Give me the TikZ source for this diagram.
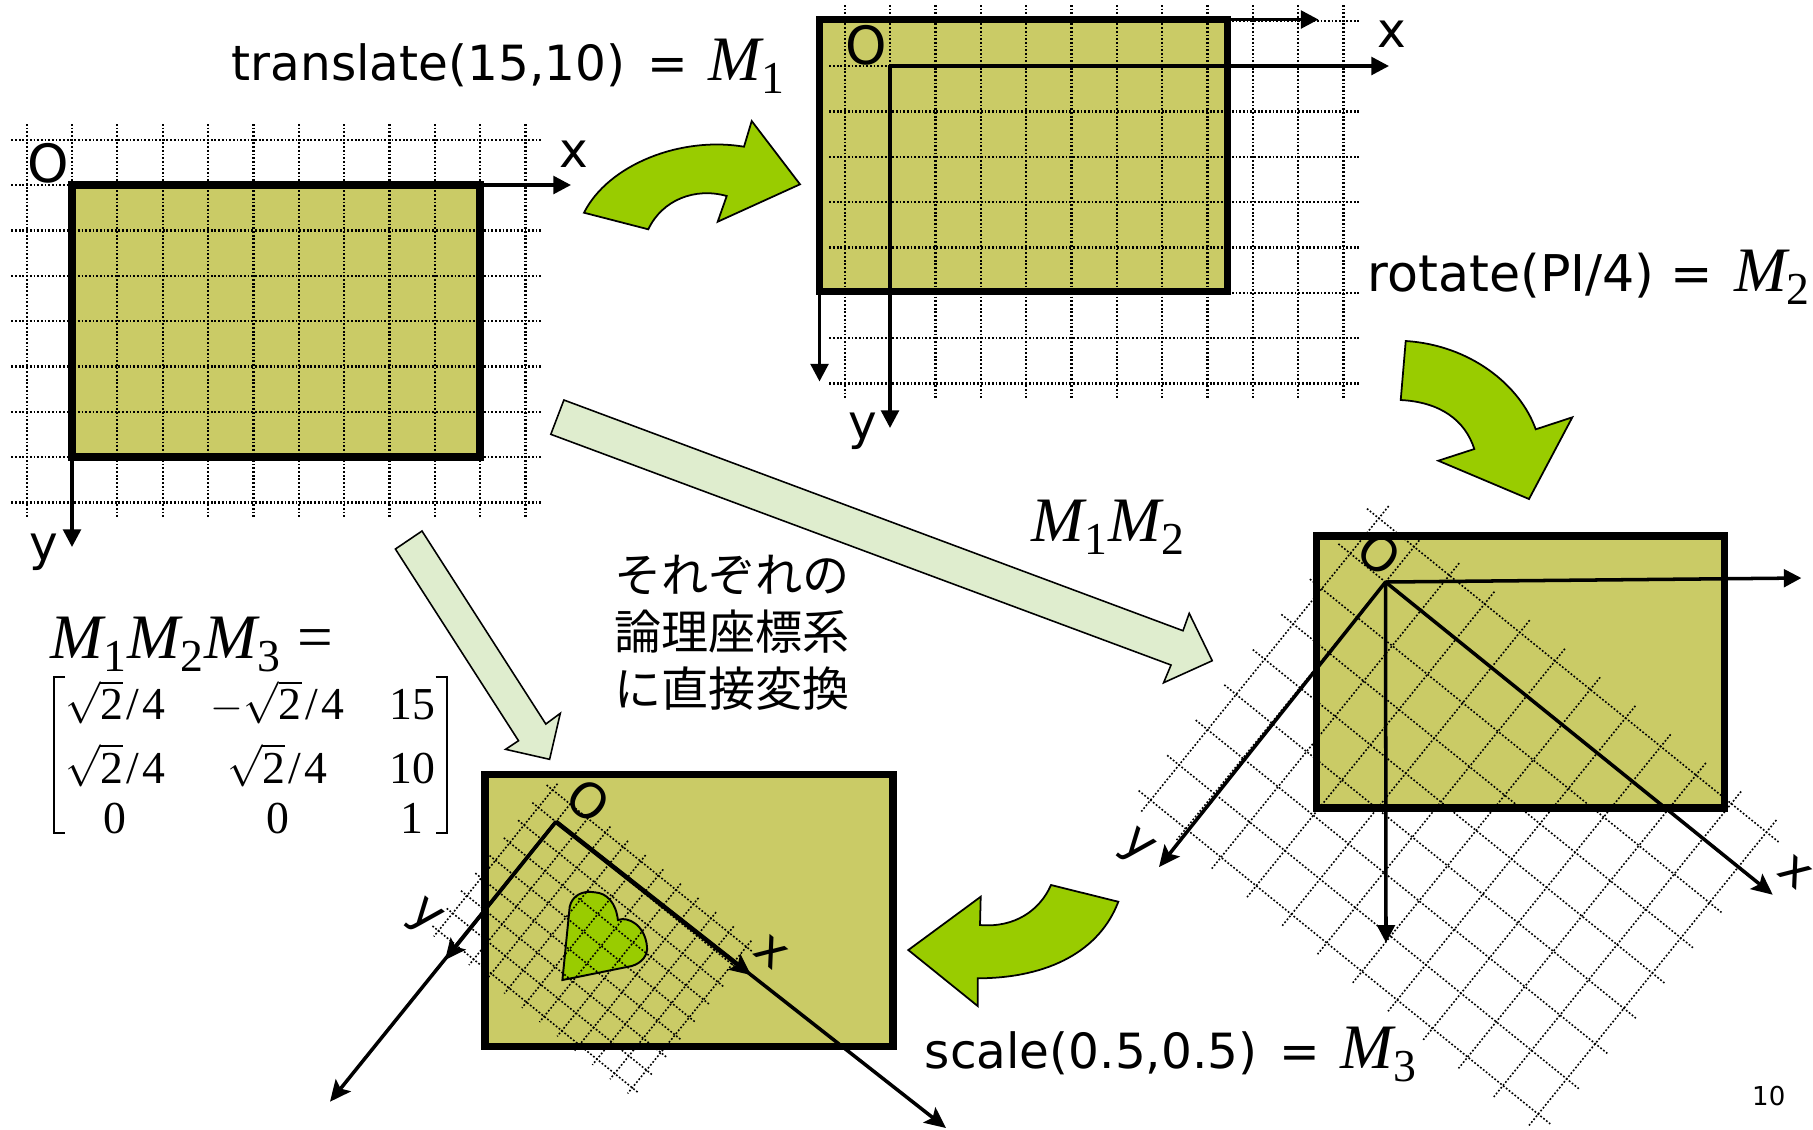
\documentclass[tikz,border=0pt]{standalone}
\usepackage{fontspec}
\setmainfont{Liberation Serif}
\newfontfamily\labelfont{DejaVu Sans}
\newfontfamily\cjk{Noto Sans CJK JP}
\usetikzlibrary{arrows.meta}
\definecolor{panelfill}{HTML}{CACB66}
\definecolor{bendgreen}{HTML}{99CC00}
\definecolor{palegreen}{HTML}{DFEDCE}
\newcommand{\mfac}[1]{{\rmfamily\fontsize{18}{20}\selectfont\itshape M\raisebox{-3.8pt}{\upshape\fontsize{13}{14}\selectfont #1}\kern.4pt}}
\newcommand{\eqsign}{\hspace{2pt} =\hspace{1.4pt} }
\newcommand{\rootq}{\sqrt{\mbox{2}}\hspace{1pt}\mbox{/}\hspace{1pt}\mbox{4}}
\newcommand{\coordgrid}{%
  \foreach \i in {-1,...,10} \draw[gridline] (\i*45.35,-61) -- (\i*45.35,332);
  \foreach \j in {-1,...,7} \draw[gridline] (-60.6,\j*45.35) -- (469,\j*45.35);
}
\tikzset{
  gridline/.style={line width=.65pt,dash pattern=on .5pt off .55pt},
  panelline/.style={draw=black,line width=2.1pt},
  axis/.style={line width=1pt,-{Triangle[length=5pt,width=5pt]}},
  tiltaxis/.style={line width=1pt,-{Stealth[length=6pt,width=5.5pt,inset=1.2pt]}},
  bendarrow/.style={fill=bendgreen,draw=black,line width=.5pt},
  palearrow/.style={fill=palegreen,draw=black,line width=.45pt},
  matbracket/.style={line width=.6pt},
  plaintext/.style={inner sep=0pt,font=\labelfont\fontsize{13.8}{17}\selectfont},
  bigtext/.style={inner sep=0pt,font=\labelfont\fontsize{15}{17}\selectfont},
}

\begin{document}
\begin{tikzpicture}[x=0.01cm,y=-0.01cm]
  \useasboundingbox (0,0) rectangle (1813,1129);

  % arrows between the panels
  \draw[bendarrow] (584,212.7) .. controls (608,165) and (680,136) .. (744,146.7)
    -- (751.7,121) -- (800,184.3) -- (717.7,221.7) -- (726.7,196)
    .. controls (695,187) and (662,200) .. (648.3,229.3) -- cycle;
  \draw[bendarrow] (1405.7,341) .. controls (1470,345) and (1520,385) .. (1535.7,429.3)
    -- (1572.3,417.3) -- (1529,499) -- (1438.3,460.7) -- (1474.3,449)
    .. controls (1465,420) and (1440,402) .. (1400.7,400) -- cycle;
  \draw[bendarrow] (1051,885) -- (1118.3,901.7) .. controls (1100,950) and (1050,978) .. (977.7,978.3)
    -- (977.7,1006) -- (908.3,950) -- (980.7,896.7) -- (980,925)
    .. controls (1015,928) and (1040,910) .. (1051,885) -- cycle;
  \draw[palearrow] (563.9,400) -- (1183,630.7) -- (1189.2,613.3) -- (1212.2,660.7)
    -- (1163.6,682.7) -- (1171,665) -- (550.8,434.3) -- cycle;
  \draw[palearrow] (422,531) -- (545.8,724) -- (560.3,713.3) -- (549.6,759.3)
    -- (505.6,749.3) -- (518.5,740.7) -- (395.4,549) -- cycle;

  % first panel
  \coordinate (orgA) at (72,185);
  \fill[panelfill] (orgA) rectangle ++(408,272);
  \begin{scope}[shift={(orgA)}]
    \coordgrid
  \end{scope}
  \draw[panelline] (orgA) rectangle ++(408,272);
  \draw[axis] (orgA) -- ++(499,0);
  \draw[axis] (orgA) -- ++(0,362);
  \node[bigtext] (oA) at (48,163) {O};
  \node[plaintext] (xA) at (574,154) {x};
  \node[plaintext] (yA) at (44,552) {y};

  % second panel
  \coordinate (cornerB) at (819.5,19.5);
  \coordinate (orgB) at (890,66);
  \fill[panelfill] (cornerB) rectangle ++(408,272);
  \begin{scope}[shift={(orgB)}]
    \coordgrid
  \end{scope}
  \draw[panelline] (cornerB) rectangle ++(408,272);
  \draw[axis] (cornerB) -- ++(499,0);
  \draw[axis] (cornerB) -- ++(0,362);
  \draw[axis] (orgB) -- ++(499,0);
  \draw[axis] (orgB) -- ++(0,362);
  \node[bigtext] (oB) at (866,45) {O};
  \node[plaintext] (xB) at (1392,34) {x};
  \node[plaintext] (yB) at (863,431) {y};

  % third panel
  \coordinate (cornerC) at (1316.5,536);
  \coordinate (orgC) at (1385.5,582);
  \fill[panelfill] (cornerC) rectangle ++(408,272);
  \begin{scope}[shift={(orgC)},rotate=-39]
    \tikzset{gridline/.append style={line width=.45pt}}
    \coordgrid
  \end{scope}
  \draw[panelline] (cornerC) rectangle ++(408,272);
  \draw[axis] (orgC) -- (1801.4,578);
  \draw[axis] (orgC) -- (1386,942.7);
  \draw[tiltaxis] (orgC) -- (1772.7,894.7);
  \draw[tiltaxis] (orgC) -- (1159,867);
  \node[plaintext,rotate=-39] (oC) at (1379.5,553.7) {O};
  \node[plaintext,rotate=-39] (xC) at (1795,872) {x};
  \node[plaintext,rotate=-39] (yC) at (1136,848) {y};

  % fourth panel
  \coordinate (cornerD) at (485,774.5);
  \coordinate (orgD) at (555.9,821.7);
  \fill[panelfill] (cornerD) rectangle ++(408,272);
  \draw[fill=bendgreen,draw=black,line width=.55pt] (562.4,980) -- (569.7,906.7)
    .. controls (572,896) and (582,890) .. (594.9,892.3)
    .. controls (607,893) and (616,903) .. (617.9,920)
    .. controls (628,916) and (645,925) .. (647,946.7)
    .. controls (648,955) and (642,963) .. (631.7,966) -- cycle;
  \begin{scope}[shift={(orgD)},rotate=-39,scale=.5]
    \tikzset{gridline/.append style={line width=.45pt}}
    \coordgrid
  \end{scope}
  \draw[panelline] (cornerD) rectangle ++(408,272);
  \draw[tiltaxis] (orgD) -- (946,1128);
  \draw[tiltaxis] (orgD) -- (330,1101.7);
  \draw[tiltaxis,line width=1.3pt] (orgD) -- (751,975);
  \draw[tiltaxis] (orgD) -- (445,960);
  \node[plaintext,rotate=-39] (oD) at (588.4,800.7) {O};
  \node[plaintext,rotate=-39] (xD) at (770.5,951.7) {x};
  \node[plaintext,rotate=-39] (yD) at (423.6,918.3) {y};

  % captions
  \node[plaintext,anchor=base west] (capA) at (231,80) {translate(15,10)\eqsign\mfac{1}};
  \node[plaintext,anchor=base west,font=\labelfont\fontsize{14.4}{17}\selectfont] (capB) at (1367,291)
    {rotate(PI/4) =\hspace{1.4pt} \mfac{2}};
  \node[plaintext,anchor=base west] (capC) at (924,1068) {scale(0.5,0.5)\eqsign\mfac{3}};
  \node[inner sep=0pt,anchor=base west] (capD) at (1031,541) {\mfac{1}\mfac{2}};
  \node[inner sep=0pt,anchor=base west,font=\fontsize{18}{20}\selectfont] (capE) at (50,658) {\mfac{1}\mfac{2}\mfac{3} =};
  \node[inner sep=0pt,font=\fontsize{13}{14.4}\selectfont] (matrixM) at (250,764.5)
    {\setlength{\arraycolsep}{6.4pt}$\begin{array}{@{}ccc@{}}
      \rootq & -\rootq & \mbox{15}\\[2.4pt]
      \rootq & \rootq & \mbox{10}\\
      \mbox{0} & \mbox{0} & \mbox{1}
    \end{array}$};
  \draw[matbracket] (65,677) -| (54,833) -- (65,833);
  \draw[matbracket] (435.5,677) -| (446.7,833) -- (435.5,833);
  \node[inner sep=0pt,align=center,font=\cjk\fontsize{13.4}{16.2}\selectfont] (direct) at (732,633)
    {それぞれの\\論理座標系\\に直接変換};
  \node[inner sep=0pt,anchor=base east,font=\labelfont\fontsize{7.4}{9}\selectfont] (pageno) at (1786,1105) {10};
\end{tikzpicture}
\end{document}
